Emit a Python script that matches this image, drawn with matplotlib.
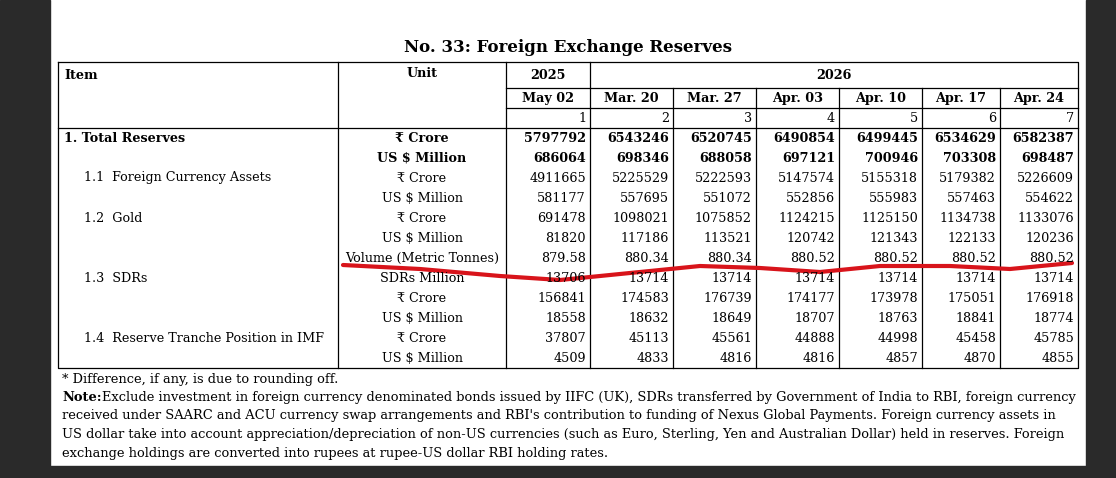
import matplotlib.pyplot as plt

plt.rcParams["font.family"] = ["DejaVu Serif"]

years = ["2025", "2026"]
dates = ["May 02", "Mar. 20", "Mar. 27", "Apr. 03", "Apr. 10", "Apr. 17", "Apr. 24"]
items = ["1. Total Reserves", "", "1.1  Foreign Currency Assets", "", "1.2  Gold", "", "",
         "1.3  SDRs", "", "", "1.4  Reserve Tranche Position in IMF", ""]
units = ["₹ Crore", "US $ Million", "₹ Crore", "US $ Million", "₹ Crore", "US $ Million",
         "Volume (Metric Tonnes)", "SDRs Million", "₹ Crore", "US $ Million", "₹ Crore", "US $ Million"]
values = [
    ["5797792", "6543246", "6520745", "6490854", "6499445", "6534629", "6582387"],
    ["686064", "698346", "688058", "697121", "700946", "703308", "698487"],
    ["4911665", "5225529", "5222593", "5147574", "5155318", "5179382", "5226609"],
    ["581177", "557695", "551072", "552856", "555983", "557463", "554622"],
    ["691478", "1098021", "1075852", "1124215", "1125150", "1134738", "1133076"],
    ["81820", "117186", "113521", "120742", "121343", "122133", "120236"],
    ["879.58", "880.34", "880.34", "880.52", "880.52", "880.52", "880.52"],
    ["13706", "13714", "13714", "13714", "13714", "13714", "13714"],
    ["156841", "174583", "176739", "174177", "173978", "175051", "176918"],
    ["18558", "18632", "18649", "18707", "18763", "18841", "18774"],
    ["37807", "45113", "45561", "44888", "44998", "45458", "45785"],
    ["4509", "4833", "4816", "4816", "4857", "4870", "4855"],
]
notes = [
    ("* Difference, if any, is due to rounding off.", None),
    ("Note:", "Exclude investment in foreign currency denominated bonds issued by IIFC (UK), SDRs transferred by Government of India to RBI, foreign currency"),
    ("", "received under SAARC and ACU currency swap arrangements and RBI's contribution to funding of Nexus Global Payments. Foreign currency assets in"),
    ("", "US dollar take into account appreciation/depreciation of non-US currencies (such as Euro, Sterling, Yen and Australian Dollar) held in reserves. Foreign"),
    ("", "exchange holdings are converted into rupees at rupee-US dollar RBI holding rates."),
]
# freehand red marker stroke across the page
stroke_x = [343, 420, 500, 560, 640, 700, 760, 820, 880, 950, 1010, 1072]
stroke_y = [265, 269, 276, 280, 272, 266, 268, 272, 266, 266, 269, 263]

W, H = 1116, 478
fig = plt.figure(figsize=(W / 100, H / 100), dpi=100)
ax = fig.add_axes([0, 0, 1, 1])
ax.set_xlim(0, W)
ax.set_ylim(H, 0)
ax.axis("off")

dark = "#2a2a2a"
ax.axvspan(0, 50, color=dark)
ax.axvspan(1086, W, color=dark)
ax.axhspan(466, H, color=dark)

fs = 9.2
ax.text(568, 47, "No. 33: Foreign Exchange Reserves", ha="center", va="center",
        fontsize=12, fontweight="bold")

left, right = 58, 1078
col_x = [338, 506, 590, 673, 756, 839, 922, 1000, 1078]
top, y1, y2, y3, bottom = 62, 88, 108, 128, 368
lw = 0.9
ax.plot([left, right, right, left, left], [top, top, bottom, bottom, top], color="black", lw=lw)
for x in col_x[:-1]:
    yt = y1 if x > 590 else top
    ax.plot([x, x], [yt, bottom], color="black", lw=lw)
for y in (y1, y2):
    ax.plot([506, right], [y, y], color="black", lw=lw)
ax.plot([left, right], [y3, y3], color="black", lw=lw)

ax.text(64, 75, "Item", va="center", fontsize=fs, fontweight="bold")
ax.text(422, 73, "Unit", ha="center", va="center", fontsize=fs, fontweight="bold")
ax.text(548, 75, years[0], ha="center", va="center", fontsize=fs, fontweight="bold")
ax.text(834, 75, years[1], ha="center", va="center", fontsize=fs, fontweight="bold")
for i, d in enumerate(dates):
    cx = (col_x[i + 1] + col_x[i + 2]) / 2
    ax.text(cx, 98, d, ha="center", va="center", fontsize=fs, fontweight="bold")
    ax.text(col_x[i + 2] - 4, 118, str(i + 1), ha="right", va="center", fontsize=fs)

for r in range(len(units)):
    cy = 138 + 20 * r
    wt = "bold" if r < 2 else "normal"
    if items[r]:
        ix = 64 if r == 0 else 84
        ax.text(ix, cy, items[r], va="center", fontsize=fs, fontweight=wt)
    ax.text(422, cy, units[r], ha="center", va="center", fontsize=fs, fontweight=wt)
    for c, v in enumerate(values[r]):
        ax.text(col_x[c + 2] - 4, cy, v, ha="right", va="center", fontsize=fs, fontweight=wt)

nfs = 9.4
for k, (head, body) in enumerate(notes):
    cy = 379 + 18.5 * k
    if body is None:
        ax.text(62, cy, head, va="center", fontsize=nfs)
    elif head:
        ax.text(62, cy, head, va="center", fontsize=nfs, fontweight="bold")
        ax.text(102, cy, body, va="center", fontsize=nfs)
    else:
        ax.text(62, cy, body, va="center", fontsize=nfs)

ax.plot(stroke_x, stroke_y, color="#d8141b", lw=3, solid_capstyle="round")

fig.savefig("out.png", dpi=100)
